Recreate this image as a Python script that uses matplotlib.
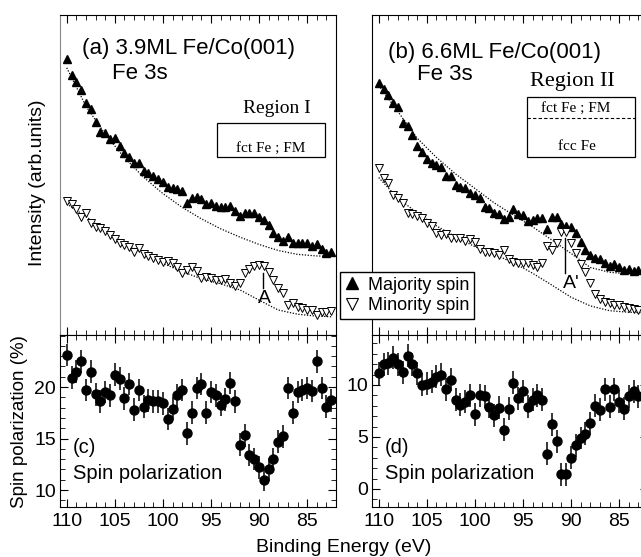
import numpy as np
import matplotlib
matplotlib.use("Agg")
import matplotlib.pyplot as plt
from matplotlib.ticker import MultipleLocator
from matplotlib.lines import Line2D
from matplotlib.patches import Rectangle

plt.rcParams['font.family'] = ['Liberation Sans', 'DejaVu Sans']

# binding energy grid (eV), 0.5 eV steps
energy = [110.0, 109.5, 109.0, 108.5, 108.0, 107.5, 107.0, 106.5, 106.0, 105.5,
          105.0, 104.5, 104.0, 103.5, 103.0, 102.5, 102.0, 101.5, 101.0, 100.5,
          100.0, 99.5, 99.0, 98.5, 98.0, 97.5, 97.0, 96.5, 96.0, 95.5,
          95.0, 94.5, 94.0, 93.5, 93.0, 92.5, 92.0, 91.5, 91.0, 90.5,
          90.0, 89.5, 89.0, 88.5, 88.0, 87.5, 87.0, 86.5, 86.0, 85.5,
          85.0, 84.5, 84.0, 83.5, 83.0, 82.5]

# (a) 3.9 ML intensities (arb. units)
maj_a = [86.2, 81.3, 79.2, 76.6, 72.4, 70.5, 66.7, 63.5, 63.0, 61.2,
         61.5, 59.1, 56.8, 55.7, 53.6, 53.8, 51.4, 50.7, 49.7, 48.7,
         47.9, 46.4, 45.8, 45.5, 45.1, 41.4, 42.7, 43.2, 42.4, 40.9,
         41.2, 40.3, 39.9, 39.9, 40.3, 38.8, 37.2, 38.0, 38.2, 38.0,
         37.0, 35.9, 34.4, 31.8, 30.5, 29.5, 30.7, 28.8, 28.8, 28.6,
         28.6, 27.8, 28.4, 26.8, 25.7, 26.0]
min_a = [42.0, 40.9, 39.3, 37.0, 38.0, 34.9, 33.8, 33.3, 32.6, 31.3,
         30.0, 28.7, 28.1, 27.6, 26.0, 27.1, 25.3, 24.7, 24.0, 23.4,
         22.9, 23.2, 22.4, 21.2, 19.5, 20.3, 21.3, 20.1, 17.7, 18.2,
         17.7, 17.2, 17.2, 17.4, 16.2, 15.3, 16.2, 19.5, 20.5, 21.6,
         21.9, 21.6, 19.8, 17.2, 14.6, 13.0, 9.4, 9.9, 8.8, 8.3,
         7.8, 7.8, 6.3, 7.3, 7.3, 7.6]

# (b) 6.6 ML intensities
maj_b = [78.6, 76.8, 75.0, 72.4, 71.2, 66.2, 65.3, 62.5, 59.1, 57.3,
         54.9, 53.8, 53.1, 52.4, 49.7, 49.7, 46.9, 46.2, 45.8, 44.5,
         43.8, 42.7, 40.1, 39.6, 38.0, 37.8, 36.2, 37.0, 39.3, 37.8,
         37.5, 35.7, 35.9, 36.5, 36.5, 33.0, 37.0, 36.8, 34.7, 34.1,
         33.7, 32.0, 29.2, 26.6, 25.0, 24.0, 23.7, 22.4, 21.6, 22.2,
         21.3, 20.3, 20.5, 20.1, 20.3]
min_b = [52.1, 49.0, 47.4, 43.8, 42.7, 41.3, 38.2, 37.8, 37.2, 36.5,
         35.1, 34.1, 31.8, 31.3, 31.6, 30.2, 30.2, 30.2, 29.5, 29.9,
         29.2, 26.8, 26.0, 26.0, 25.7, 25.0, 26.6, 23.7, 22.9, 22.6,
         22.6, 22.6, 21.9, 21.3, 22.4, 27.8, 26.6, 28.6, 32.3, 32.3,
         28.6, 25.7, 22.2, 19.8, 16.2, 12.8, 11.2, 10.4, 9.9, 9.4,
         9.4, 8.7, 8.3, 8.0, 7.8]

# background curves
bg_e = [110, 108, 106, 104, 102, 100, 98, 96, 94, 92, 90, 88, 86, 84, 82.5]
bg_maj_a = [83.5, 71.5, 62.8, 55.4, 49.3, 44.2, 39.9, 36.3, 33.2, 30.6, 28.3, 26.4, 25.2, 24.7, 24.6]
bg_min_a = [41.0, 37.0, 32.8, 28.6, 25.5, 22.4, 19.8, 17.6, 16.0, 14.1, 10.9, 7.8, 6.5, 5.9, 5.7]
bg_maj_b = [78.0, 69.8, 61.5, 55.5, 50.3, 45.8, 41.3, 37.5, 33.8, 29.7, 25.5, 21.1, 19.6, 19.1, 19.1]
bg_min_b = [49.2, 42.7, 38.2, 34.1, 30.7, 27.6, 25.2, 22.6, 19.3, 15.6, 11.8, 9.1, 7.6, 7.1, 7.0]

# spin polarization (%)
pol_c = [23.1, 20.9, 21.5, 22.5, 19.7, 21.5, 19.3, 18.6, 19.5, 19.2,
         21.2, 20.8, 18.9, 20.3, 17.8, 19.7, 18.1, 18.7, 18.6, 18.6,
         18.4, 16.9, 17.9, 19.2, 19.7, 15.5, 17.5, 19.9, 20.3, 17.5,
         19.5, 19.2, 18.3, 18.8, 20.4, 18.6, 14.4, 15.3, 13.4, 13.0,
         12.2, 11.0, 12.0, 13.0, 14.7, 15.2, 19.9, 17.5, 19.5, 19.7,
         19.9, 19.6, 22.5, 19.9, 18.1, 18.7]
pol_d = [11.1, 12.0, 12.1, 12.6, 12.0, 11.2, 12.8, 12.0, 11.1, 10.0,
         10.1, 10.3, 10.8, 11.0, 9.6, 10.5, 8.6, 8.1, 8.4, 9.0,
         7.2, 9.0, 8.9, 7.9, 7.1, 7.8, 5.7, 7.7, 10.2, 8.7,
         9.4, 7.9, 8.6, 9.0, 8.6, 3.4, 6.2, 4.6, 1.4, 1.4,
         3.0, 4.2, 4.9, 5.3, 6.3, 8.0, 7.6, 9.6, 7.9, 9.6,
         8.4, 7.7, 8.9, 9.4, 8.9]
pol_err = 1.1

W, H = 641, 557
fig = plt.figure(figsize=(W / 100, H / 100), dpi=100)
ax_a = fig.add_axes([60 / W, 222 / H, 276 / W, 320 / H])
ax_b = fig.add_axes([372 / W, 222 / H, 276 / W, 320 / H])
ax_c = fig.add_axes([60 / W, 50 / H, 276 / W, 172 / H])
ax_d = fig.add_axes([372 / W, 50 / H, 276 / W, 172 / H])

e_b = energy[:len(maj_b)]
dot = (0, (1, 1.3))

# upper panels
for ax, e, maj, mn, bgm, bgn in [(ax_a, energy, maj_a, min_a, bg_maj_a, bg_min_a),
                                 (ax_b, e_b, maj_b, min_b, bg_maj_b, bg_min_b)]:
    ax.plot(bg_e, bgm, color='black', lw=0.9, ls=dot)
    ax.plot(bg_e, bgn, color='black', lw=0.9, ls=dot)
    ax.plot(e, maj, ls='none', marker='^', ms=5.5, color='black')
    ax.plot(e, mn, ls='none', marker='v', ms=5.5, mfc='white', mec='black', mew=0.7)
    ax.set_ylim(0, 100)
    ax.set_yticks([])
    ax.tick_params(axis='x', labelbottom=False)

ax_a.spines['left'].set_color('#888888')

# peak markers
ax_a.plot([89.6, 89.6], [19.5, 14.7], color='black', lw=1)
ax_a.text(89.4, 11.5, 'A', fontsize=14, ha='center', va='center')
ax_b.plot([90.6, 90.6], [30.2, 19.3], color='black', lw=1)
ax_b.text(90.0, 16.0, "A'", fontsize=14, ha='center', va='center')

# panel texts
ax_a.text(0.080, 0.894, '(a) 3.9ML Fe/Co(001)', transform=ax_a.transAxes, fontsize=16, va='center')
ax_a.text(0.188, 0.816, 'Fe 3s', transform=ax_a.transAxes, fontsize=16, va='center')
ax_b.text(0.058, 0.884, '(b) 6.6ML Fe/Co(001)', transform=ax_b.transAxes, fontsize=16, va='center')
ax_b.text(0.163, 0.8125, 'Fe 3s', transform=ax_b.transAxes, fontsize=16, va='center')

serif = ['Liberation Serif', 'DejaVu Serif']
ax_a.text(0.786, 0.709, 'Region I', transform=ax_a.transAxes, fontsize=14, family=serif,
          ha='center', va='center')
ax_a.add_patch(Rectangle((0.569, 0.556), 0.391, 0.1065, transform=ax_a.transAxes,
                         fill=False, ec='black', lw=0.9))
ax_a.text(0.764, 0.584, 'fct Fe ; FM', transform=ax_a.transAxes, fontsize=11, family=serif,
          ha='center', va='center')

ax_b.text(0.725, 0.791, 'Region II', transform=ax_b.transAxes, fontsize=16, family=serif,
          ha='center', va='center')
ax_b.add_patch(Rectangle((0.5616, 0.556), 0.3913, 0.188, transform=ax_b.transAxes,
                         fill=False, ec='black', lw=0.9))
ax_b.plot([0.5616, 0.9529], [0.678, 0.678], transform=ax_b.transAxes, color='black',
          lw=0.8, ls=(0, (3, 2)))
ax_b.text(0.739, 0.709, 'fct Fe ; FM', transform=ax_b.transAxes, fontsize=11, family=serif,
          ha='center', va='center')
ax_b.text(0.743, 0.5875, 'fcc Fe', transform=ax_b.transAxes, fontsize=11, family=serif,
          ha='center', va='center')

# lower panels
for ax, e, pol, lim, ticks, lab in [(ax_c, energy, pol_c, (8.35, 25.05), [10, 15, 20], '(c)'),
                                    (ax_d, e_b, pol_d, (-1.73, 14.8), [0, 5, 10], '(d)')]:
    ax.errorbar(e, pol, yerr=pol_err, fmt='o', ms=6.5, color='black', ecolor='black',
                elinewidth=1.1, capsize=0)
    ax.set_ylim(*lim)
    ax.set_yticks(ticks)
    ax.yaxis.set_minor_locator(MultipleLocator(1))
    ax.tick_params(axis='y', which='both', direction='in', left=True, right=True, labelsize=14, pad=3)
    ax.tick_params(axis='y', which='major', length=6)
    ax.tick_params(axis='y', which='minor', length=3.5)
    ax.tick_params(axis='x', labelsize=14, pad=4)
    ax.text(0.047, 0.345, lab, transform=ax.transAxes, fontsize=14.5, va='center')
    ax.text(0.047, 0.197, 'Spin polarization', transform=ax.transAxes, fontsize=14.5, va='center')

for ax in [ax_a, ax_b, ax_c, ax_d]:
    ax.set_xlim(110.7, 82.0)
    ax.xaxis.set_major_locator(MultipleLocator(5))
    ax.xaxis.set_minor_locator(MultipleLocator(1))
    ax.tick_params(axis='x', which='both', direction='in', top=True, bottom=True)
    ax.tick_params(axis='x', which='major', length=6)
    ax.tick_params(axis='x', which='minor', length=3.5)

# legend
handles = [Line2D([], [], ls='none', marker='^', ms=8, color='black'),
           Line2D([], [], ls='none', marker='v', ms=8, mfc='white', mec='black', mew=0.8)]
leg = fig.legend(handles, ['Majority spin', 'Minority spin'], loc='upper left',
                 bbox_to_anchor=(340 / W, 1 - 272 / H), fontsize=13, frameon=True,
                 fancybox=False, edgecolor='black', framealpha=1, handlelength=0.8,
                 handletextpad=0.5, borderpad=0.25, labelspacing=0.2, borderaxespad=0)
leg.get_frame().set_linewidth(1)

fig.text(38 / W, 1 - 183 / H, 'Intensity (arb.units)', rotation=90, fontsize=14,
         ha='center', va='center')
fig.text(20 / W, 1 - 422 / H, 'Spin polarization (%)', rotation=90, fontsize=13.5,
         ha='center', va='center')
fig.text(344 / W, 1 - 547 / H, 'Binding Energy (eV)', fontsize=14, ha='center', va='center')

fig.savefig('out.png', dpi=100)
